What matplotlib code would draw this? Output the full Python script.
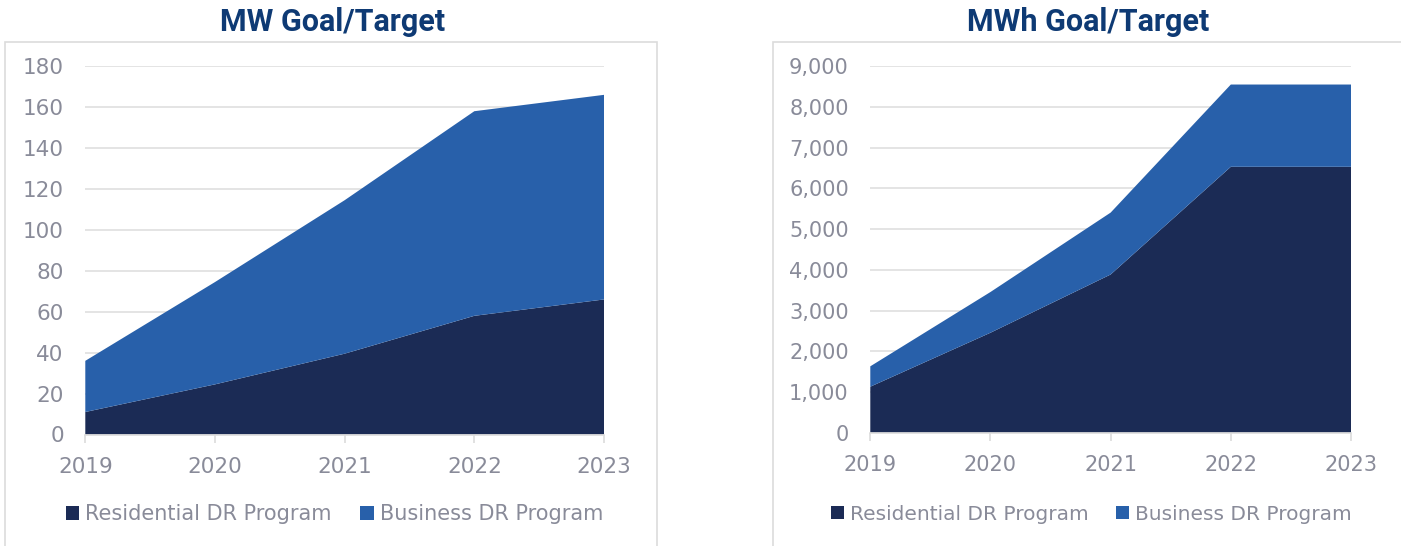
import matplotlib.pyplot as plt
from matplotlib.ticker import FuncFormatter
from matplotlib.patches import Rectangle

# demand response goals by year
years = [2019, 2020, 2021, 2022, 2023]
mw_residential = [11, 24.5, 39.5, 58, 66]
mw_business = [25, 50, 75, 100, 100]
mwh_residential = [1130, 2455, 3885, 6530, 6530]
mwh_business = [500, 1000, 1520, 2020, 2020]
series_names = ['Residential DR Program', 'Business DR Program']

res_color = '#1b2b55'
bus_color = '#2860aa'
title_color = '#0e3a74'
text_color = '#898b99'
line_color = '#dcdcdc'

W, H = 1401, 546
fig = plt.figure(figsize=(W / 100, H / 100), dpi=100)


def px(x0, y0, x1, y1):
    # pixel box -> figure fraction [left, bottom, width, height]
    return [x0 / W, 1 - y1 / H, (x1 - x0) / W, (y1 - y0) / H]


def draw_panel(rect, res, bus, ymax, ystep, title, title_x, legend_x, fmt, frame,
               fs=15.5, legend_fs=15, title_fs=22):
    fx0, fy0, fx1, fy1 = frame
    fig.add_artist(Rectangle((fx0 / W, 1 - fy1 / H), (fx1 - fx0) / W, (fy1 - fy0) / H,
                             transform=fig.transFigure, facecolor='none',
                             edgecolor=line_color, linewidth=1.2, clip_on=False))

    ax = fig.add_axes(rect)
    ax.stackplot(years, res, bus, colors=[res_color, bus_color],
                 labels=series_names, linewidth=0, zorder=2)
    ax.set_xlim(years[0], years[-1])
    ax.set_ylim(0, ymax)
    ax.set_yticks(range(0, ymax + 1, ystep))
    ax.yaxis.set_major_formatter(FuncFormatter(fmt))
    ax.set_xticks(years)
    ax.grid(axis='y', color=line_color, linewidth=1.1, zorder=0)
    ax.set_axisbelow(True)
    for s in ['top', 'right', 'left']:
        ax.spines[s].set_visible(False)
    ax.spines['bottom'].set_color(line_color)
    ax.spines['bottom'].set_linewidth(1.2)
    ax.spines['bottom'].set_zorder(3)
    ax.tick_params(axis='y', length=0, pad=15.5, labelsize=fs, labelcolor=text_color)
    ax.tick_params(axis='x', length=6, width=1.2, color=line_color, pad=10,
                   labelsize=fs, labelcolor=text_color)

    fig.text(title_x / W, 1 - 22 / H, title, ha='center', va='center',
             fontsize=title_fs, fontweight='bold', color=title_color, family='Roboto')

    leg = fig.legend(*ax.get_legend_handles_labels(), loc='center left',
                     bbox_to_anchor=(legend_x / W, 1 - 514 / H), ncol=2,
                     frameon=False, fontsize=legend_fs, borderpad=0, borderaxespad=0,
                     handlelength=0.63, handleheight=0.67, handletextpad=0.3,
                     columnspacing=1.37)
    for t in leg.get_texts():
        t.set_color(text_color)
    return ax


draw_panel(px(85.3, 66.2, 604, 434.5), mw_residential, mw_business, 180, 20,
           'MW Goal/Target', 333, 66, lambda v, p: f'{v:.0f}',
           (5, 41.5, 657, 560))
draw_panel(px(870.3, 66.2, 1351, 432.7), mwh_residential, mwh_business, 9000, 1000,
           'MWh Goal/Target', 1088, 831, lambda v, p: f'{v:,.0f}',
           (773, 42, 1420, 560), fs=15, legend_fs=14.5, title_fs=22)

fig.savefig('out.png', dpi=100)
